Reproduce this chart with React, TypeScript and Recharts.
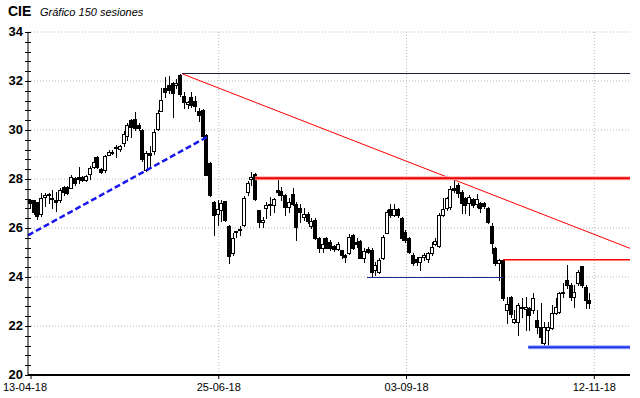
import React from 'react';
import { ComposedChart, Bar, XAxis, YAxis, CartesianGrid, ReferenceLine } from 'recharts';

const title = 'CIE';
const subtitle = 'Gráfico 150 sesiones';

const dateTicks = [0, 50, 100, 150];
const dateLabels = ['13-04-18', '25-06-18', '03-09-18', '12-11-18'];

const open = [
  27.14, 27.13, 27.05, 26.56, 27.25, 27.39, 27.23, 27.13, 27.14, 27.67,
  27.69, 27.65, 28.03, 28.07, 28.09, 27.96, 28.2, 28.5, 28.91, 28.4,
  28.37, 29.0, 29.1, 29.29, 29.21, 29.48, 29.76, 30.41, 30.45, 30.2,
  30.0, 28.38, 29.06, 29.13, 30.04, 30.79, 31.7, 31.85, 31.9, 31.82,
  32.26, 31.37, 31.06, 31.33, 31.2, 30.76, 30.83, 29.81, 28.65, 27.06,
  26.57, 26.75, 27.09, 26.07, 24.98, 25.86, 25.97, 26.11, 27.47, 27.99,
  28.19, 26.73, 26.25, 26.8, 26.92, 26.94, 27.55, 27.51, 27.35, 26.87,
  27.37, 27.0, 26.83, 26.46, 26.56, 26.09, 26.33, 25.58, 25.17, 25.6,
  25.41, 25.25, 25.14, 25.1, 24.9, 25.0, 25.71, 25.44, 25.47, 24.79,
  25.13, 25.1, 24.3, 24.22, 24.76, 25.81, 26.76, 26.53, 26.76, 26.39,
  25.85, 25.58, 24.9, 24.72, 24.63, 24.8, 24.72, 24.97, 25.35, 25.27,
  26.53, 26.8, 26.85, 27.62, 27.76, 27.48, 27.21, 27.01, 27.17, 26.98,
  27.01, 27.03, 26.8, 26.08, 25.17, 24.56, 24.7, 22.65, 23.2, 22.18,
  22.18, 22.79, 22.71, 22.72, 22.65, 22.24, 21.97, 21.29, 21.84, 21.9,
  22.52, 22.58, 23.4, 23.88, 23.67, 23.2, 23.74, 24.45, 23.6, 23.06,
];
const high = [
  27.2, 27.16, 27.08, 27.41, 27.44, 27.41, 27.55, 27.48, 27.62, 27.7,
  27.72, 28.16, 28.09, 28.48, 28.12, 28.16, 28.53, 28.91, 28.94, 28.44,
  28.98, 29.17, 29.18, 29.39, 29.39, 29.97, 30.27, 30.43, 30.72, 30.27,
  30.03, 29.13, 29.33, 30.04, 30.83, 31.72, 32.15, 32.19, 31.95, 32.1,
  32.29, 31.55, 31.2, 31.55, 31.37, 30.9, 30.87, 29.84, 28.68, 27.09,
  27.16, 27.16, 27.12, 26.14, 25.8, 25.87, 26.07, 27.29, 27.9, 28.29,
  28.23, 26.73, 26.45, 27.05, 27.28, 27.24, 28.0, 27.69, 27.37, 27.21,
  27.65, 27.07, 26.97, 26.8, 26.67, 26.4, 26.4, 25.65, 25.6, 25.65,
  25.5, 25.3, 25.41, 25.1, 24.95, 25.74, 25.74, 25.58, 25.51, 25.17,
  25.21, 25.17, 24.6, 24.76, 25.72, 26.74, 27.0, 27.0, 26.8, 26.46,
  25.92, 25.65, 24.97, 24.8, 24.83, 24.97, 25.0, 25.44, 25.58, 26.6,
  27.21, 27.28, 27.7, 28.07, 27.83, 27.55, 27.28, 27.35, 27.21, 27.4,
  27.08, 27.08, 26.87, 26.19, 25.24, 24.72, 24.7, 23.2, 23.23, 22.65,
  22.93, 23.13, 23.2, 22.79, 23.33, 22.65, 22.93, 22.18, 22.18, 22.86,
  23.13, 23.4, 23.74, 24.49, 23.74, 23.67, 24.29, 24.45, 23.67, 23.36,
];
const low = [
  26.87, 26.57, 26.38, 26.5, 26.91, 27.03, 26.8, 26.71, 27.07, 27.35,
  27.4, 27.62, 27.76, 27.85, 27.92, 27.9, 27.98, 28.43, 28.43, 28.23,
  28.3, 28.98, 29.02, 28.9, 29.16, 29.35, 29.6, 29.73, 30.0, 29.98,
  28.72, 28.31, 28.45, 29.02, 30.0, 30.76, 31.35, 31.51, 30.52, 31.72,
  31.37, 30.9, 30.9, 30.92, 30.76, 30.35, 29.67, 28.15, 27.29, 25.73,
  26.14, 26.27, 26.3, 24.57, 24.91, 25.65, 25.73, 26.07, 27.36, 27.77,
  27.14, 26.05, 26.05, 26.4, 26.53, 26.67, 27.35, 27.14, 26.53, 26.67,
  26.94, 25.5, 26.26, 26.33, 26.19, 25.99, 25.55, 25.0, 25.0, 25.17,
  25.1, 25.06, 25.1, 24.76, 24.63, 24.92, 25.14, 25.24, 24.76, 24.6,
  24.97, 24.0, 24.1, 24.18, 24.72, 25.78, 26.46, 26.49, 26.46, 25.51,
  25.44, 24.97, 24.49, 24.49, 24.3, 24.7, 24.6, 24.9, 25.3, 25.24,
  26.49, 26.73, 26.78, 27.48, 27.28, 26.6, 26.6, 26.53, 26.87, 26.87,
  26.67, 26.8, 26.19, 24.97, 24.49, 23.88, 23.06, 22.11, 22.38, 22.11,
  21.63, 22.38, 21.84, 21.84, 22.52, 21.7, 21.29, 21.22, 21.16, 21.86,
  22.5, 22.54, 23.2, 23.54, 23.06, 22.79, 23.67, 23.6, 22.72, 22.72,
];
const close = [
  27.03, 26.67, 26.5, 27.24, 27.36, 27.33, 27.17, 27.08, 27.55, 27.48,
  27.44, 28.09, 27.85, 27.99, 27.96, 28.12, 28.43, 28.7, 28.5, 28.27,
  28.94, 29.1, 29.12, 29.25, 29.35, 29.84, 30.2, 30.14, 30.07, 30.09,
  28.8, 29.06, 28.97, 29.9, 30.7, 31.22, 31.55, 31.65, 31.5, 31.91,
  31.47, 31.13, 31.14, 31.03, 30.97, 30.63, 29.74, 28.18, 27.36, 26.54,
  26.79, 27.02, 26.34, 24.84, 25.59, 25.85, 25.9, 27.22, 27.84, 28.1,
  27.18, 26.23, 26.33, 26.94, 26.97, 27.17, 27.45, 27.35, 26.87, 27.07,
  26.96, 26.05, 26.64, 26.56, 26.29, 26.29, 25.58, 25.17, 25.33, 25.2,
  25.17, 25.14, 25.33, 24.9, 24.83, 25.65, 25.17, 25.33, 24.79, 25.06,
  25.03, 24.22, 24.5, 24.69, 25.65, 26.67, 26.53, 26.76, 26.53, 25.58,
  25.51, 25.03, 24.56, 24.63, 24.8, 24.9, 24.97, 25.21, 25.48, 26.53,
  26.76, 27.21, 27.6, 27.55, 27.41, 27.01, 26.94, 27.28, 26.94, 27.17,
  26.8, 26.9, 26.26, 25.37, 24.56, 24.7, 23.13, 22.9, 22.49, 22.27,
  22.86, 22.72, 22.79, 22.45, 23.13, 21.97, 21.56, 21.97, 21.97, 22.52,
  22.79, 23.33, 23.33, 23.67, 23.2, 23.4, 24.22, 23.67, 23.06, 22.95,
];

// trend / support / resistance lines: [x1, y1, x2, y2] in (session index, price)
const peakLine = [40.3, 32.29, 159.5, 32.29];
const diagonalLine = [40.3, 32.29, 159.5, 25.17];
const resistance28 = [59.7, 28.03, 159.5, 28.03];
const resistance247 = [125.7, 24.7, 159.5, 24.7];
const support24 = [89.5, 24.0, 125.7, 24.0];
const support211 = [132.4, 21.13, 159.5, 21.13];
const upTrend = [-0.8, 25.7, 47.3, 29.75];

const xDomain = [-0.8, 159.5];
const yMajor = [20, 22, 24, 26, 28, 30, 32, 34];
const yTicks = Array.from({ length: 36 }, (_, k) => Math.round((20 + 0.4 * k) * 10) / 10);

const data = open.map((o, i) => ({
  i,
  o,
  h: high[i],
  l: low[i],
  c: close[i],
  range: [low[i], high[i]],
}));

const FONT = '"Liberation Sans", Arial, sans-serif';

const Candle = (props: any) => {
  const { x, y, width, height, payload } = props;
  if (x == null || y == null || !payload) return null;
  const top = Math.min(y, y + height);
  const bot = Math.max(y, y + height);
  const span = payload.h - payload.l;
  const k = span > 0 ? (bot - top) / span : 0;
  const py = (v: number) => top + (payload.h - v) * k;
  const cx = Math.round(x + width / 2);
  const yo = py(payload.o);
  const yc = py(payload.c);
  const bt = Math.round(Math.min(yo, yc));
  const bb = Math.round(Math.max(yo, yc));
  const up = payload.c >= payload.o;
  return (
    <g>
      <line x1={cx - 0.5} x2={cx - 0.5} y1={Math.round(top)} y2={Math.round(bot) + 1} stroke="#000" strokeWidth={1} />
      <rect
        x={cx - 2.5}
        y={bt + 0.5}
        width={3}
        height={Math.max(bb - bt, 1)}
        fill={up ? '#fff' : '#000'}
        stroke="#000"
        strokeWidth={1}
      />
    </g>
  );
};

const YTick = (p: any) => {
  const v = p.payload.value;
  const major = yMajor.includes(v);
  const yy = Math.round(p.y) + 0.5;
  return (
    <g>
      <line x1={p.x - 3} x2={p.x + 3} y1={yy} y2={yy} stroke="#000" strokeWidth={1} />
      {major && (
        <text x={p.x - 5} y={p.y + 4} textAnchor="end" fontFamily={FONT} fontWeight="bold" fontSize={13} fill="#000">
          {v}
        </text>
      )}
    </g>
  );
};

const XTick = (p: any) => {
  const v = p.payload.value;
  const idx = dateTicks.indexOf(v);
  const label = idx >= 0 ? dateLabels[idx] : '';
  return (
    <text x={p.x + (v === 0 ? -6 : 0)} y={p.y + 11} textAnchor="middle" fontFamily={FONT} fontSize={11} fill="#000">
      {label}
    </text>
  );
};

const seg = (a: number[]) => [
  { x: a[0], y: a[1] },
  { x: a[2], y: a[3] },
];

export default function App() {
  return (
    <div style={{ position: 'absolute', left: 0, top: 0, width: 640, height: 398, background: '#fff' }}>
      <ComposedChart
        width={640}
        height={398}
        data={data}
        margin={{ top: 32, right: 10, bottom: 0, left: 0 }}
      >
        <CartesianGrid
          stroke="#b8b8b8"
          strokeDasharray="1 2"
          horizontalValues={[22, 24, 26, 28, 30, 32, 34]}
          verticalValues={[50, 100, 150]}
        />
        <XAxis
          dataKey="i"
          type="number"
          domain={xDomain}
          allowDataOverflow
          ticks={dateTicks}
          interval={0}
          height={23}
          axisLine={{ stroke: '#000', strokeWidth: 2 }}
          tickLine={{ stroke: '#000' }}
          tickSize={4}
          tickMargin={1}
          tick={<XTick />}
        />
        <YAxis
          type="number"
          domain={[20, 34]}
          allowDataOverflow
          ticks={yTicks}
          interval={0}
          width={28}
          axisLine={{ stroke: '#000', strokeWidth: 1 }}
          tickLine={false}
          tickSize={0}
          tickMargin={0}
          tick={<YTick />}
        />
        <Bar dataKey="range" barSize={4} shape={<Candle />} isAnimationActive={false} />
        <ReferenceLine segment={seg(upTrend)} stroke="#1616f0" strokeWidth={2.5} strokeDasharray="6 3" ifOverflow="visible" />
        <ReferenceLine segment={seg(peakLine)} stroke="#1c1c40" strokeWidth={1} shapeRendering="crispEdges" ifOverflow="visible" />
        <ReferenceLine segment={seg(diagonalLine)} stroke="#ff0000" strokeWidth={1} ifOverflow="visible" />
        <ReferenceLine segment={seg(resistance28)} stroke="#ffb0b0" strokeWidth={4} ifOverflow="visible" />
        <ReferenceLine segment={seg(resistance28)} stroke="#ee0000" strokeWidth={2} ifOverflow="visible" />
        <ReferenceLine segment={seg(resistance247)} stroke="#ff0000" strokeWidth={1.5} ifOverflow="visible" />
        <ReferenceLine segment={seg(support24)} stroke="#1a2a8a" strokeWidth={1} shapeRendering="crispEdges" ifOverflow="visible" />
        <ReferenceLine segment={seg(support211)} stroke="#a0b0ff" strokeWidth={4} ifOverflow="visible" />
        <ReferenceLine segment={seg(support211)} stroke="#1f33e8" strokeWidth={2} ifOverflow="visible" />
      </ComposedChart>
      <svg width={640} height={30} style={{ position: 'absolute', left: 0, top: 0, pointerEvents: 'none' }}>
        <text x={8} y={16} fontFamily={FONT} fontWeight="bold" fontSize={14} fill="#000">
          {title}
        </text>
        <text x={40} y={16} fontFamily={FONT} fontStyle="italic" fontSize={11} fill="#000">
          {subtitle}
        </text>
      </svg>
    </div>
  );
}
